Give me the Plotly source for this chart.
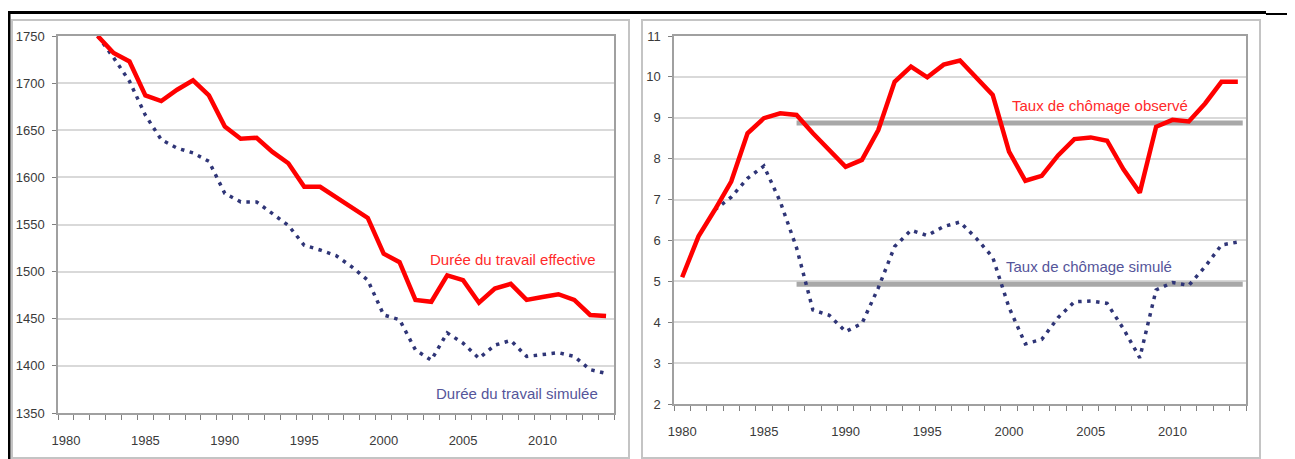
import plotly.graph_objects as go

W, H = 1295, 459
OFF = 8  # page offset of the figure (body margin)

# ---------------- data ----------------
years_left = list(range(1982, 2015))
duree_effective = [1750, 1732, 1723, 1687, 1681, 1693, 1703, 1687, 1654, 1641,
                   1642, 1627, 1615, 1590, 1590, 1579, 1567, 1557, 1519, 1510,
                   1470, 1468, 1496, 1491, 1467, 1482, 1487, 1470, 1473, 1476,
                   1470, 1454, 1453]
duree_simulee = [1750, 1727, 1702, 1666, 1640, 1631, 1626, 1617, 1583, 1574,
                 1574, 1562, 1549, 1528, 1523, 1517, 1505, 1491, 1454, 1449,
                 1417, 1406, 1435, 1424, 1408, 1422, 1427, 1410, 1412, 1414,
                 1410, 1396, 1392]

years_obs = list(range(1980, 2015))
chomage_observe = [5.1, 6.1, 6.75, 7.44, 8.62, 8.99, 9.11, 9.07, 8.62, 8.21,
                   7.80, 7.97, 8.70, 9.88, 10.25, 9.99, 10.30, 10.40, 9.96, 9.56,
                   8.17, 7.46, 7.58, 8.08, 8.48, 8.52, 8.44, 7.74, 7.17, 8.78,
                   8.95, 8.91, 9.35, 9.88, 9.88]
years_sim = list(range(1982, 2015))
chomage_simule = [6.75, 7.06, 7.52, 7.82, 6.95, 5.82, 4.30, 4.17, 3.77, 3.97,
                  4.84, 5.85, 6.25, 6.12, 6.34, 6.45, 6.05, 5.59, 4.36, 3.47,
                  3.58, 4.11, 4.50, 4.52, 4.46, 3.84, 3.13, 4.79, 4.97, 4.90,
                  5.36, 5.89, 5.96]
avg_years = [1987, 2014.3]
avg_observe = 8.87
avg_simule = 4.93

x_tickvals = [1980, 1985, 1990, 1995, 2000, 2005, 2010]
x_ticktext = [str(v) for v in x_tickvals]

RED = "#ff0000"
NAVY = "#2f3577"
GRAY_AVG = "#a8a8a8"
FONT = "Arial, Liberation Sans, sans-serif"

def px(x):
    return (x - OFF) / W

def py(y):
    return 1 - (y - OFF) / H

fig = go.Figure()

fig.add_trace(go.Scatter(x=years_left, y=duree_simulee, mode="lines",
                         line=dict(color=NAVY, width=3.5, dash="3.5px,5.5px"),
                         xaxis="x", yaxis="y", showlegend=False))
fig.add_trace(go.Scatter(x=years_left, y=duree_effective, mode="lines",
                         line=dict(color=RED, width=4.5),
                         xaxis="x", yaxis="y", showlegend=False))

fig.add_trace(go.Scatter(x=avg_years, y=[avg_observe] * 2, mode="lines",
                         line=dict(color=GRAY_AVG, width=5),
                         xaxis="x2", yaxis="y2", showlegend=False))
fig.add_trace(go.Scatter(x=avg_years, y=[avg_simule] * 2, mode="lines",
                         line=dict(color=GRAY_AVG, width=5),
                         xaxis="x2", yaxis="y2", showlegend=False))
fig.add_trace(go.Scatter(x=years_sim, y=chomage_simule, mode="lines",
                         line=dict(color=NAVY, width=3.5, dash="3.5px,5.5px"),
                         xaxis="x2", yaxis="y2", showlegend=False))
fig.add_trace(go.Scatter(x=years_obs, y=chomage_observe, mode="lines",
                         line=dict(color=RED, width=4.5),
                         xaxis="x2", yaxis="y2", showlegend=False))

axis_line = "#a0a0a0"
grid = "#d9d9d9"
tickfont = dict(family=FONT, size=13, color="#3a3a3a")

def xaxis_cfg(domain, anchor):
    return dict(domain=domain, anchor=anchor, range=[1979.5, 2014.5],
                tickmode="array", tickvals=x_tickvals, ticktext=x_ticktext,
                ticks="", showgrid=False, zeroline=False, automargin=False,
                showline=True, linecolor=axis_line, linewidth=1.5, mirror=True,
                tickfont=tickfont, ticklabelstandoff=15,
                minor=dict(ticks="outside", ticklen=5, tickcolor="#808080",
                           tick0=1979.5, dtick=1, showgrid=False, tickwidth=1))

def yaxis_cfg(domain, anchor, rng, dtick, standoff):
    return dict(domain=domain, anchor=anchor, range=rng, dtick=dtick,
                tick0=rng[0], showgrid=True, gridcolor=grid, gridwidth=1.5,
                zeroline=False, showline=True, linecolor=axis_line, linewidth=1.5,
                mirror=True, ticks="outside", ticklen=4, tickcolor="#808080",
                automargin=False,
                tickfont=tickfont, ticklabelstandoff=standoff)

fig.update_layout(
    width=W, height=H, autosize=False,
    margin=dict(l=0, r=0, t=0, b=0, pad=0, autoexpand=False),
    paper_bgcolor="white", plot_bgcolor="white",
    xaxis=xaxis_cfg([px(58), px(614)], "y"),
    yaxis=yaxis_cfg([py(413), py(36)], "x", [1350, 1750], 50, 5),
    xaxis2=xaxis_cfg([px(674), px(1246)], "y2"),
    yaxis2=yaxis_cfg([py(404), py(36)], "x2", [2, 11], 1, 5),
    font=dict(family=FONT),
)

annots = [
    ("Durée du travail effective", 513, 259, "#ff2a2a"),
    ("Durée du travail simulée", 517, 393, "#55559a"),
    ("Taux de chômage observé", 1100, 105, "#ff2a2a"),
    ("Taux de chômage simulé", 1089, 266, "#55559a"),
]
for text, x, y, col in annots:
    fig.add_annotation(text=text, x=px(x), y=py(y), xref="paper", yref="paper",
                       xanchor="center", yanchor="middle", showarrow=False,
                       font=dict(family=FONT, size=15, color=col))

shapes = [
    dict(type="rect", x0=px(12), x1=px(629), y0=py(458), y1=py(20),
         line=dict(color="#c4c4c4", width=2)),
    dict(type="rect", x0=px(642), x1=px(1260), y0=py(458), y1=py(20),
         line=dict(color="#c4c4c4", width=2)),
    dict(type="line", x0=px(8), x1=px(1266), y0=py(12.5), y1=py(12.5),
         line=dict(color="black", width=3)),
    dict(type="line", x0=px(1266), x1=px(1295), y0=py(14), y1=py(14),
         line=dict(color="black", width=2)),
    dict(type="line", x0=px(9), x1=px(9), y0=py(11), y1=py(470),
         line=dict(color="black", width=3)),
]
for s in shapes:
    s.update(xref="paper", yref="paper", layer="above")
    fig.add_shape(**s)

fig.write_html("out.html")
